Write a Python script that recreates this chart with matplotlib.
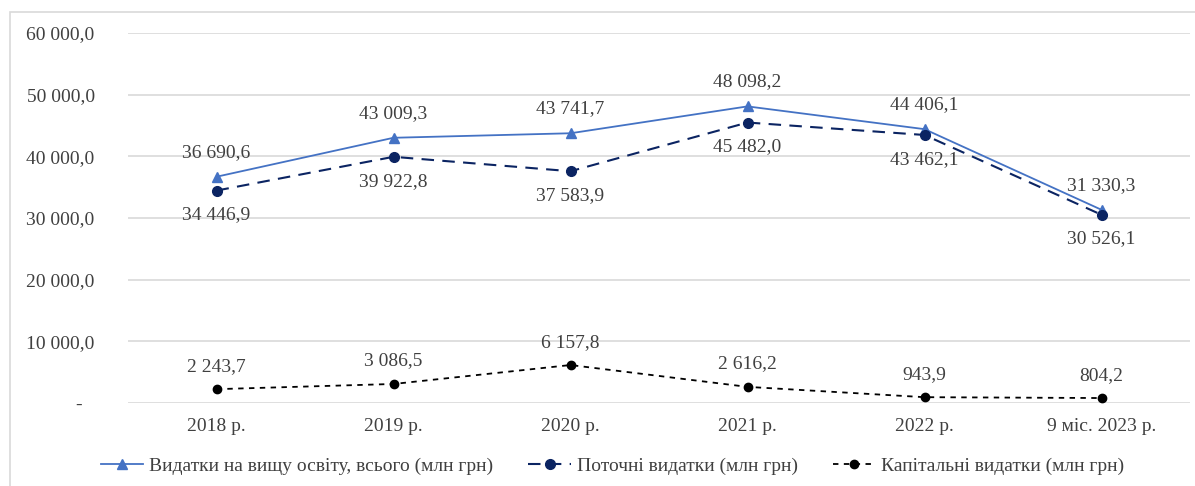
import matplotlib
matplotlib.use("Agg")
import matplotlib.pyplot as plt
from matplotlib.patches import Rectangle

categories = ["2018 р.", "2019 р.", "2020 р.", "2021 р.", "2022 р.", "9 міс. 2023 р."]
total = [36690.6, 43009.3, 43741.7, 48098.2, 44406.1, 31330.3]
current = [34446.9, 39922.8, 37583.9, 45482.0, 43462.1, 30526.1]
capital = [2243.7, 3086.5, 6157.8, 2616.2, 943.9, 804.2]
yticks = [0, 10000, 20000, 30000, 40000, 50000, 60000]

labels = ["Видатки на вищу освіту, всього (млн грн)",
          "Поточні видатки (млн грн)",
          "Капітальні видатки (млн грн)"]


def fmt(v):
    s = f"{v:,.1f}"
    return s.replace(",", " ").replace(".", ",")


plt.rcParams['font.family'] = ['Liberation Serif', 'DejaVu Serif']
txt = "#404040"
fs = 14

fig = plt.figure(figsize=(11.95, 4.86), dpi=100)
fig.patches.append(Rectangle((10 / 1195, -0.1), 1.2, 1.1 - 12 / 486,
                             transform=fig.transFigure, fill=False,
                             edgecolor="#d9d9d9", linewidth=1.2))
ax = fig.add_axes([128 / 1195, 1 - 403 / 486, 1062 / 1195, 370 / 486])

x = list(range(len(categories)))
ax.plot(x, total, color="#4472C4", lw=1.3, marker="^", ms=7, label=labels[0], zorder=3)
ax.plot(x, current, color="#0b2462", lw=1.5, ls=(0, (6, 4)), marker="o", ms=7,
        label=labels[1], zorder=4)
ax.plot(x, capital, color="black", lw=1.3, ls=(0, (3, 3)), marker="o", ms=6,
        label=labels[2], zorder=3)

for i in x:
    ax.annotate(fmt(total[i]), (i, total[i]), xytext=(0, 17.5), textcoords="offset points",
                ha="center", va="center", fontsize=fs, color=txt)
    ax.annotate(fmt(current[i]), (i, current[i]), xytext=(0, -17.5), textcoords="offset points",
                ha="center", va="center", fontsize=fs, color=txt)
    ax.annotate(fmt(capital[i]), (i, capital[i]), xytext=(0, 16.5), textcoords="offset points",
                ha="center", va="center", fontsize=fs, color=txt)

ax.set_xlim(-0.5, len(categories) - 0.5)
ax.set_ylim(0, 60000)
ax.set_yticks(yticks)
ax.set_yticklabels(["-" if v == 0 else fmt(v) for v in yticks])
ax.set_xticks(x)
ax.set_xticklabels(categories)
ax.tick_params(axis="both", length=0, labelsize=fs, colors=txt)
ax.tick_params(axis="y", pad=24)
ax.tick_params(axis="x", pad=11)
ax.grid(axis="y", color="#d9d9d9", lw=1.2)
ax.set_axisbelow(True)
for s in ax.spines.values():
    s.set_visible(False)
# the "-" for zero sits a bit left of the other labels
ax.get_yticklabels()[0].set_x(-0.012)

leg = fig.legend(loc="center", bbox_to_anchor=(0.5126, 1 - 466 / 486), ncol=3, frameon=False,
                 fontsize=fs, handlelength=2.2, columnspacing=1.8, handletextpad=0.3)
for t in leg.get_texts():
    t.set_color(txt)

fig.savefig("out.png", dpi=100)
